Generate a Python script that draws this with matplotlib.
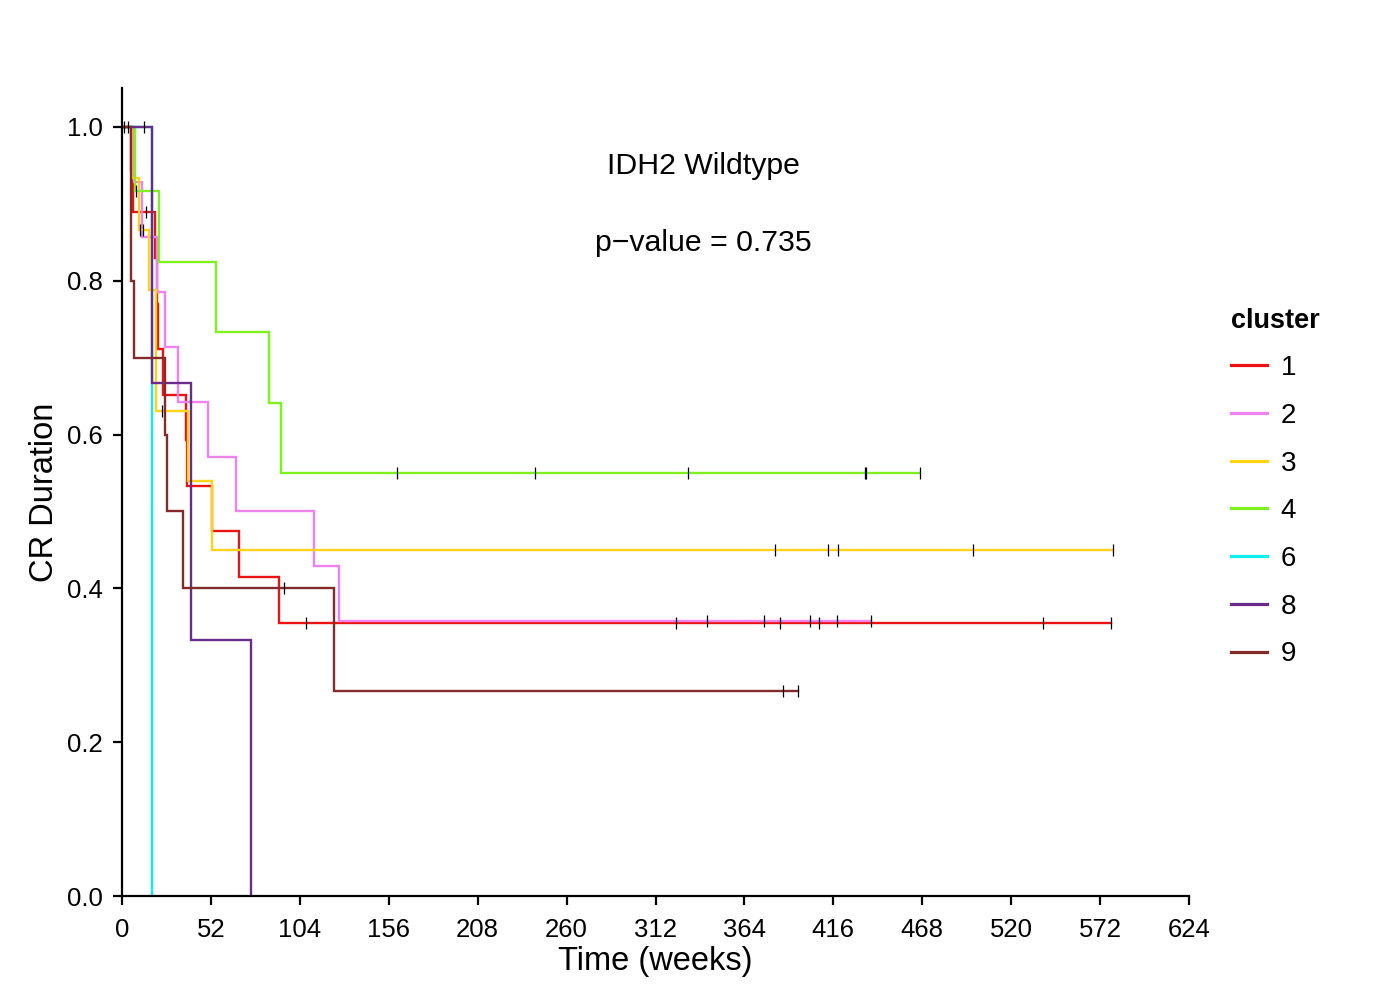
import numpy as np
import matplotlib
matplotlib.use("Agg")
import matplotlib.pyplot as plt
from matplotlib.lines import Line2D

plt.rcParams['font.family'] = ['Liberation Sans', 'DejaVu Sans']

# ---- data: event and censor times (weeks) per cluster ----
clusters = ["1", "2", "3", "4", "6", "8", "9"]
colors = ["#EE1111", "#EE82EE", "#FFD21A", "#7FF11F", "#11EEEE", "#6A2C8A", "#832A2A"]

events_1 = [5.5, 6.5, 19.3, 20.5, 21.2, 23.8, 37.3, 38.3, 52.4, 68.6, 92.0]
censor_1 = [14.2, 107.6, 323.8, 385.0, 407.6, 538.8, 578.4]
events_2 = [7.0, 11.7, 20.3, 25.1, 32.9, 50.5, 66.5, 112.0, 127.0]
censor_2 = [342.3, 375.3, 402.2, 418.3, 437.9]
events_3 = [6.0, 10.0, 15.6, 19.6, 19.6, 38.8, 52.8]
censor_3 = [10.3, 12.3, 23.2, 382.0, 413.0, 418.7, 497.7, 579.5]
events_4 = [7.8, 21.8, 54.8, 86.2, 92.8]
censor_4 = [8.0, 160.8, 241.5, 331.0, 434.3, 435.3, 466.7]
events_6 = [17.7]
censor_6 = []
events_8 = [17.7, 40.4, 75.4]
censor_8 = [1.2, 3.5, 12.9]
events_9 = [5.3, 5.3, 7.0, 25.2, 26.3, 35.5, 124.0]
censor_9 = [95.0, 386.8, 395.5]

events = [events_1, events_2, events_3, events_4, events_6, events_8, events_9]
censors = [censor_1, censor_2, censor_3, censor_4, censor_6, censor_8, censor_9]

title_text = "IDH2 Wildtype"
pval_text = "p\u2212value = 0.735"
xticks = list(range(0, 625, 52))
yticks = [0.0, 0.2, 0.4, 0.6, 0.8, 1.0]


def km(ev, ce):
    times = np.array(list(ev) + list(ce), dtype=float)
    flags = np.array([1] * len(ev) + [0] * len(ce))
    order = np.lexsort((-flags, times))
    times, flags = times[order], flags[order]
    n = len(times)
    s = 1.0
    st, ss = [0.0], [1.0]
    cens_pts = []
    i = 0
    at_risk = n
    while i < n:
        t = times[i]
        j = i
        d = 0
        c = 0
        while j < n and times[j] == t:
            if flags[j] == 1:
                d += 1
            else:
                c += 1
            j += 1
        if d > 0:
            s = s * (1 - d / at_risk)
            st.append(t)
            ss.append(s)
        if c > 0:
            for _ in range(c):
                cens_pts.append((t, s))
        at_risk -= (d + c)
        i = j
    tmax = times.max()
    if st[-1] < tmax:
        st.append(tmax)
        ss.append(s)
    return np.array(st), np.array(ss), cens_pts


fig = plt.figure(figsize=(14, 10), dpi=100)
ax = fig.add_axes([122 / 1400, 104 / 1000, (1189 - 122) / 1400, (896 - 88) / 1000])

handles = []
for name, col, ev, ce in zip(clusters, colors, events, censors):
    st, ss, cp = km(ev, ce)
    ax.plot(st, ss, drawstyle='steps-post', color=col, lw=1.7, solid_joinstyle='miter')
    handles.append(Line2D([0], [0], color=col, lw=2.3))
for name, col, ev, ce in zip(clusters, colors, events, censors):
    st, ss, cp = km(ev, ce)
    if cp:
        cx = [p[0] for p in cp]
        cy = [p[1] for p in cp]
        ax.plot(cx, cy, ls='none', marker='|', color='black', ms=8.5, mew=0.9)

ax.set_xlim(0, 624)
ax.set_ylim(0, 1.0507)
ax.set_xticks(xticks)
ax.set_xticklabels([str(x) for x in xticks])
ax.set_yticks(yticks)
ax.set_yticklabels([f"{y:.1f}" for y in yticks])
ax.tick_params(axis='both', labelsize=18.5, length=6.5, width=1.6, direction='out', color='black')
ax.tick_params(axis='x', pad=9)
ax.tick_params(axis='y', pad=7)
for sp in ['top', 'right']:
    ax.spines[sp].set_visible(False)
for sp in ['left', 'bottom']:
    ax.spines[sp].set_linewidth(1.6)
ax.spines['bottom'].set_bounds(0, 624)

ax.set_xlabel("Time (weeks)", fontsize=23.5, labelpad=3)
ax.set_ylabel("CR Duration", fontsize=23.5, labelpad=5)

ax.text(339.8, 0.949, title_text, ha='center', va='center', fontsize=21.8)
ax.text(339.8, 0.849, pval_text, ha='center', va='center', fontsize=21.8)

leg = fig.legend(handles, clusters, title="cluster", loc='upper left',
                 bbox_to_anchor=(1225 / 1400, 1 - 302 / 1000), frameon=False,
                 fontsize=20, title_fontproperties={'weight': 'bold', 'size': 19.5},
                 handlelength=1.3, handletextpad=0.5, labelspacing=0.78,
                 borderpad=0.2, alignment='left', borderaxespad=0)

fig.savefig("out.png", dpi=100)
